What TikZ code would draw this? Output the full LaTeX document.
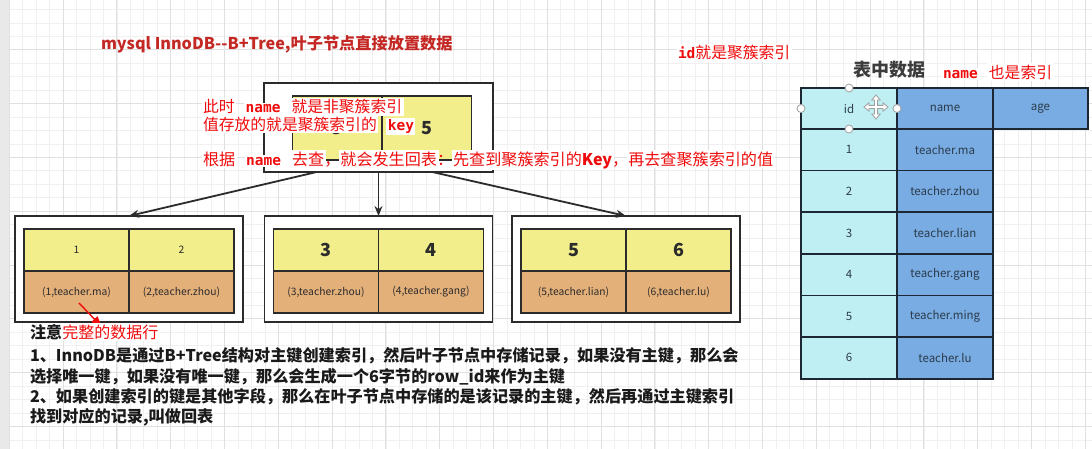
\documentclass[tikz,border=0pt]{standalone}
\usepackage{fontspec}
\setmainfont{Noto Sans CJK SC}
\newfontfamily\monof{DejaVu Sans Mono}
\usetikzlibrary{arrows.meta,calc}
\definecolor{gridminor}{HTML}{F0F0F0}
\definecolor{gridmajor}{HTML}{E0E0E0}
\definecolor{stripc}{HTML}{E9E9E9}
\definecolor{titlec}{RGB}{196,40,36}
\definecolor{notered}{RGB}{240,12,12}
\definecolor{yel}{HTML}{F2EE8C}
\definecolor{org}{HTML}{E4B07A}
\definecolor{cyanc}{HTML}{BFEEF3}
\definecolor{bluec}{HTML}{78ACE2}
\definecolor{tabc}{HTML}{1D2733}
\definecolor{tabtext}{HTML}{2C3B4C}
\definecolor{boxc}{HTML}{2B2B2B}
\definecolor{bodyc}{HTML}{1A1A1A}
\newcommand{\nm}[1]{{\monof\bfseries\fontsize{14.5}{16}\selectfont #1}}
\newcommand{\wb}[1]{\hspace{-1.5pt}{\fboxsep=1.5pt\colorbox{white}{#1}}\hspace{-1.5pt}}
\newcommand{\gap}{\hspace{11pt}}
\begin{document}
\begin{tikzpicture}[x=1pt,y=-1pt,
  every node/.style={inner sep=0pt, outer sep=0pt},
  obox/.style={draw=boxc, line width=1.8pt, fill=white},
  ycell/.style={draw=boxc, line width=1.6pt, fill=yel, minimum width=105pt, minimum height=42pt, text=boxc},
  ocell/.style={draw=boxc, line width=1.6pt, fill=org, minimum width=105pt, minimum height=42pt, text=boxc, font=\fontsize{10.3}{12}\selectfont},
  small/.style={font=\fontsize{10.3}{12}\selectfont},
  big/.style={font=\fontsize{18}{20}\selectfont\bfseries},
  tcell/.style={draw=tabc, line width=1.8pt, minimum width=96pt, minimum height=41.6pt, text=tabtext, font=\fontsize{11.5}{13}\selectfont},
  idcell/.style={tcell, fill=cyanc},
  nmcell/.style={tcell, fill=bluec},
  handle/.style={circle, draw=gray!75, fill=white, line width=0.8pt, minimum size=8pt},
  arr/.style={draw=boxc, line width=1.8pt, -{Stealth[length=10pt,width=8pt]}},
  redarr/.style={draw=notered, line width=1.4pt, -{Triangle[length=11pt,width=8pt]}},
  note/.style={text=notered, font=\fontsize{15.8}{18}\selectfont},
  body/.style={text=bodyc, font=\fontsize{16.15}{18}\selectfont\bfseries}
]
\useasboundingbox (0,0) rectangle (1092,449);
\fill[white] (0,0) rectangle (1092,449);
% grid
\foreach \i in {0,...,80} \draw[gridminor, line width=0.7pt] ({9.3+13.45*\i},0) -- ({9.3+13.45*\i},449);
\foreach \j in {0,...,34} \draw[gridminor, line width=0.7pt] (0,{-4+13.45*\j}) -- (1092,{-4+13.45*\j});
\foreach \i in {0,...,20} \draw[gridmajor, line width=0.9pt] ({9.3+53.8*\i},0) -- ({9.3+53.8*\i},449);
\foreach \j in {1,...,9} \draw[gridmajor, line width=0.9pt] (0,{-4+53.8*\j}) -- (1092,{-4+53.8*\j});
\fill[stripc] (0,0) rectangle (9,449);

% title
\node[anchor=west, text=titlec, font=\fontsize{16.2}{18}\selectfont\bfseries] (title) at (101,44) {mysql InnoDB{-}{-}B+Tree,叶子节点直接放置数据};

% root
\node[obox, minimum width=229pt, minimum height=89pt] (R) at (378.5,127.5) {};
\node[ycell, minimum width=89.5pt, minimum height=64pt, big] (R1) at (337.25,128) {3};
\node[ycell, minimum width=89.5pt, minimum height=64pt, big] (R2) at (426.75,128) {5};

% leaves
\node[obox, minimum width=228pt, minimum height=106pt] (L1) at (129,269) {};
\node[obox, minimum width=228pt, minimum height=106pt] (L2) at (378.5,269) {};
\node[obox, minimum width=228pt, minimum height=106pt] (L3) at (626,269) {};

\node[ycell, small] (L1a) at (76.5,250) {1};
\node[ycell, small] (L1b) at (181.5,250) {2};
\node[ocell] (L1c) at (76.5,292) {(1,teacher.ma)};
\node[ocell] (L1d) at (181.5,292) {(2,teacher.zhou)};

\node[ycell, big] (L2a) at (326,250) {3};
\node[ycell, big] (L2b) at (431,250) {4};
\node[ocell] (L2c) at (326,292) {(3,teacher.zhou)};
\node[ocell] (L2d) at (431,292) {(4,teacher.gang)};

\node[ycell, big] (L3a) at (573.5,250) {5};
\node[ycell, big] (L3b) at (678.5,250) {6};
\node[ocell] (L3c) at (573.5,292) {(5,teacher.lian)};
\node[ocell] (L3d) at (678.5,292) {(6,teacher.lu)};

% connectors
\draw[arr] ($(R.south west)!0.23!(R.south east)$) -- (L1.north);
\draw[arr] (R.south) -- (L2.north);
\draw[arr] ($(R.south west)!0.735!(R.south east)$) -- (L3.north);

% annotations over root
\node[note, anchor=west] (n1) at (203,107) {\wb{此时}\gap\wb{\nm{name}}\gap\wb{就是非聚簇索引}};
\node[note, anchor=west] (n2) at (203,125) {\wb{值存放的就是聚簇索引的}\gap\wb{\nm{key}}};
\node[note, anchor=west, font=\fontsize{16.1}{18}\selectfont] (n3) at (203,160) {\wb{根据}\gap\wb{\nm{name}}\gap\wb{去查}，\wb{就会发生回表}：\wb{先查到聚簇索引的{\bfseries Key}}，\wb{再去查聚簇索引的值}};

% table side
\node[note, anchor=west] (n4) at (678,53) {\wb{\nm{id}就是聚簇索引}};
\node[anchor=west, text=bodyc!85, font=\fontsize{18}{20}\selectfont\bfseries] (tt) at (853,70) {表中数据};
\node[note, anchor=west] (n5) at (943,72) {\wb{\nm{name}}\gap\wb{也是索引}};

\node[idcell, minimum height=41pt] (h0) at (849,108.5) {id};
\node[nmcell, minimum height=41pt] (h1) at (945,108.5) {name};
\node[nmcell, minimum height=41pt, minimum width=95pt] (h2) at (1040.5,108.5) {age};
\foreach \k/\nmv [count=\r from 0] in {1/teacher.ma,2/teacher.zhou,3/teacher.lian,4/teacher.gang,5/teacher.ming,6/teacher.lu}{
  \node[idcell] (i\k) at (849,{149.8+41.6*\r}) {\k};
  \node[nmcell] (m\k) at (945,{149.8+41.6*\r}) {\nmv};
}
% selection handles and move icon
\node[handle] (s1) at (h0.north) {};
\node[handle] (s2) at (h0.west) {};
\node[handle] (s3) at (h0.east) {};
\node[handle] (s4) at (h0.south) {};
\begin{scope}[shift={(876,107)}]
\filldraw[fill=white, draw=gray!75, line width=0.8pt]
 (1.6,1.6) -- (7,1.6) -- (7,4.2) -- (12,0) -- (7,-4.2) -- (7,-1.6) -- (1.6,-1.6)
 -- (1.6,-7) -- (4.2,-7) -- (0,-12) -- (-4.2,-7) -- (-1.6,-7) -- (-1.6,-1.6)
 -- (-7,-1.6) -- (-7,-4.2) -- (-12,0) -- (-7,4.2) -- (-7,1.6) -- (-1.6,1.6)
 -- (-1.6,7) -- (-4.2,7) -- (0,12) -- (4.2,7) -- (1.6,7) -- cycle;
\end{scope}

% notes at bottom
\coordinate (ra) at (79,303);
\coordinate (rb) at (102,327);
\draw[redarr] (ra) -- (rb);
\node[body, anchor=west] (zy) at (30,332) {注意};
\node[note, anchor=west, font=\fontsize{16}{18}\selectfont] (zy2) at (zy.east) {\wb{完整的数据行}};
\node[body, anchor=west] (b1) at (30,356) {1、InnoDB是通过B+Tree结构对主键创建索引，然后叶子节点中存储记录，如果没有主键，那么会};
\node[body, anchor=west] (b2) at (30,377) {选择唯一键，如果没有唯一键，那么会生成一个6字节的row\_id来作为主键};
\node[body, anchor=west] (b3) at (30,397) {2、如果创建索引的键是其他字段，那么在叶子节点中存储的是该记录的主键，然后再通过主键索引};
\node[body, anchor=west] (b4) at (30,417) {找到对应的记录,叫做回表};
\end{tikzpicture}
\end{document}
